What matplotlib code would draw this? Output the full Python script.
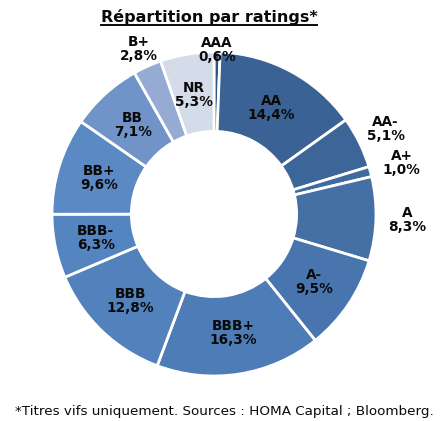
import matplotlib.pyplot as plt
import numpy as np

ratings = ["AAA", "AA", "AA-", "A+", "A", "A-", "BBB+", "BBB", "BBB-", "BB+", "BB", "B+", "NR"]
pct = [0.6, 14.4, 5.1, 1.0, 8.3, 9.5, 16.3, 12.8, 6.3, 9.6, 7.1, 2.8, 5.3]
colors = ["#2f5584", "#3a6294", "#3c6697", "#3f6a9e", "#4470a6", "#4875ad",
          "#4d7cb6", "#5281bc", "#5585c1", "#5a89c3", "#7094c8", "#95abd4", "#d4dce9"]
# labels placed outside the ring (radius factor), others sit in the ring
outside = {"AAA": 1.01, "AA-": 1.18, "A+": 1.2, "A": 1.19, "B+": 1.12}

fig = plt.figure(figsize=(4.43, 4.21), dpi=100)
ax = fig.add_axes([52 / 443, 45 / 421, 324 / 443, 324 / 421])

wedges, _ = ax.pie(pct, colors=colors, startangle=90, counterclock=False,
                   radius=1.0, wedgeprops=dict(width=0.49, edgecolor="white", linewidth=2))
ax.set_xlim(-1, 1)
ax.set_ylim(-1, 1)
ax.set_aspect("equal")
ax.axis("off")

tot = sum(pct)
cum = np.cumsum([0] + pct)
for i, r in enumerate(ratings):
    mid = (cum[i] + pct[i] / 2) / tot * 2 * np.pi
    rad = outside.get(r, 0.745)
    x, y = rad * np.sin(mid), rad * np.cos(mid)
    lab = r + "\n" + ("%.1f%%" % pct[i]).replace(".", ",")
    ax.text(x, y, lab, ha="center", va="center", fontsize=9.8, fontweight="bold",
            color="#0a0a0a", linespacing=1.0)

t = fig.text(209 / 443, 1 - 17 / 421, "Répartition par ratings*", ha="center", va="center",
             fontsize=11.5, fontweight="bold", color="#0a0a0a")
fig.canvas.draw()
bb = t.get_window_extent().transformed(fig.transFigure.inverted())
fig.add_artist(plt.Line2D([bb.x0, bb.x1], [bb.y0 + 0.001, bb.y0 + 0.001],
                          transform=fig.transFigure, color="#0a0a0a", linewidth=1.4))

fig.text(224 / 443, 1 - 411 / 421, "*Titres vifs uniquement. Sources : HOMA Capital ; Bloomberg.",
         ha="center", va="center", fontsize=9.7, color="#0a0a0a")

plt.savefig("out.png", dpi=100)
